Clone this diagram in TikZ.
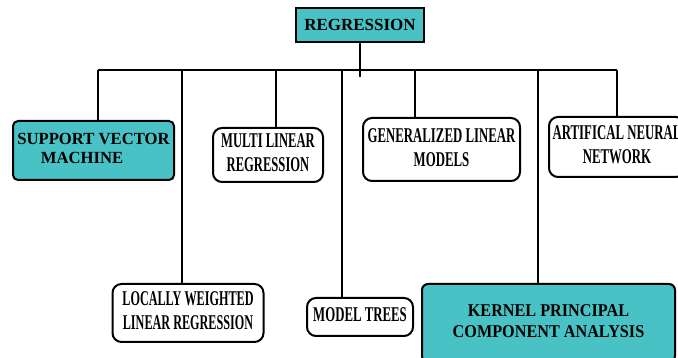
\documentclass[tikz,border=0pt]{standalone}
\usepackage{fontspec}
\setmainfont{Liberation Serif}
\usepackage{graphicx}
\definecolor{tealbox}{RGB}{72,194,197}
% squeezed, centred lines of text
\newcommand{\narrow}[2]{\scalebox{#1}[1]{\begin{tabular}{@{}c@{}}#2\end{tabular}}}

\begin{document}
\begin{tikzpicture}[x=1pt,y=-1pt,
    box/.style={draw,line width=2pt,rounded corners=9pt,fill=white,inner sep=0pt,
      font=\bfseries\fontsize{21}{24}\selectfont},
    tbox/.style={box,fill=tealbox,rounded corners=5pt,
      font=\bfseries\fontsize{17}{19}\selectfont},
    link/.style={line width=2pt}]
  \useasboundingbox(0,0)rectangle(678,358);
  \clip(0,0)rectangle(678,358);

  \node[draw,line width=1.5pt,fill=tealbox,minimum width=128,minimum height=34,
        font=\bfseries\fontsize{17}{19}\selectfont] (root) at (360,25) {REGRESSION};

  \node[tbox,minimum width=161,minimum height=59] (svm) at (93.5,150.5)
       {\scalebox{.98}[1]{\begin{tabular}{@{}l@{}}SUPPORT VECTOR\\\hspace{24pt}MACHINE\end{tabular}}};
  \node[box,minimum width=110,minimum height=54] (mlr) at (268,155)
       {\narrow{.6}{MULTI LINEAR\\REGRESSION}};
  \node[box,minimum width=157,minimum height=63] (glm) at (441.5,149.5)
       {\narrow{.61}{GENERALIZED LINEAR\\MODELS}};
  \node[box,minimum width=136,minimum height=60] (ann) at (617,147)
       {\narrow{.61}{ARTIFICAL NEURAL\\NETWORK}};
  \node[box,minimum width=151,minimum height=58] (lwlr) at (188,313)
       {\narrow{.58}{LOCALLY WEIGHTED\\LINEAR REGRESSION}};
  \node[box,minimum width=106,minimum height=38] (mt) at (360,317)
       {\narrow{.61}{MODEL TREES}};
  \node[tbox,rounded corners=6pt,minimum width=253,minimum height=78,
        font=\bfseries\fontsize{18}{20}\selectfont] (kpca) at (548.5,323)
       {\raisebox{8pt}{\narrow{.9}{KERNEL PRINCIPAL\\COMPONENT ANALYSIS}}};

  % bus
  \coordinate (stem) at (360,77);
  \foreach \x/\n in {98/svm,182/lwlr,276/mlr,342/mt,415/glm,538/kpca,617/ann}{
    \coordinate (d\n) at (\x,70);
    \draw[link] (d\n) -- (d\n |- \n.north);
  }
  \draw[line width=2.5pt] (dsvm) -- (dann);
  \draw[link] (root) -- (stem);
\end{tikzpicture}
\end{document}
